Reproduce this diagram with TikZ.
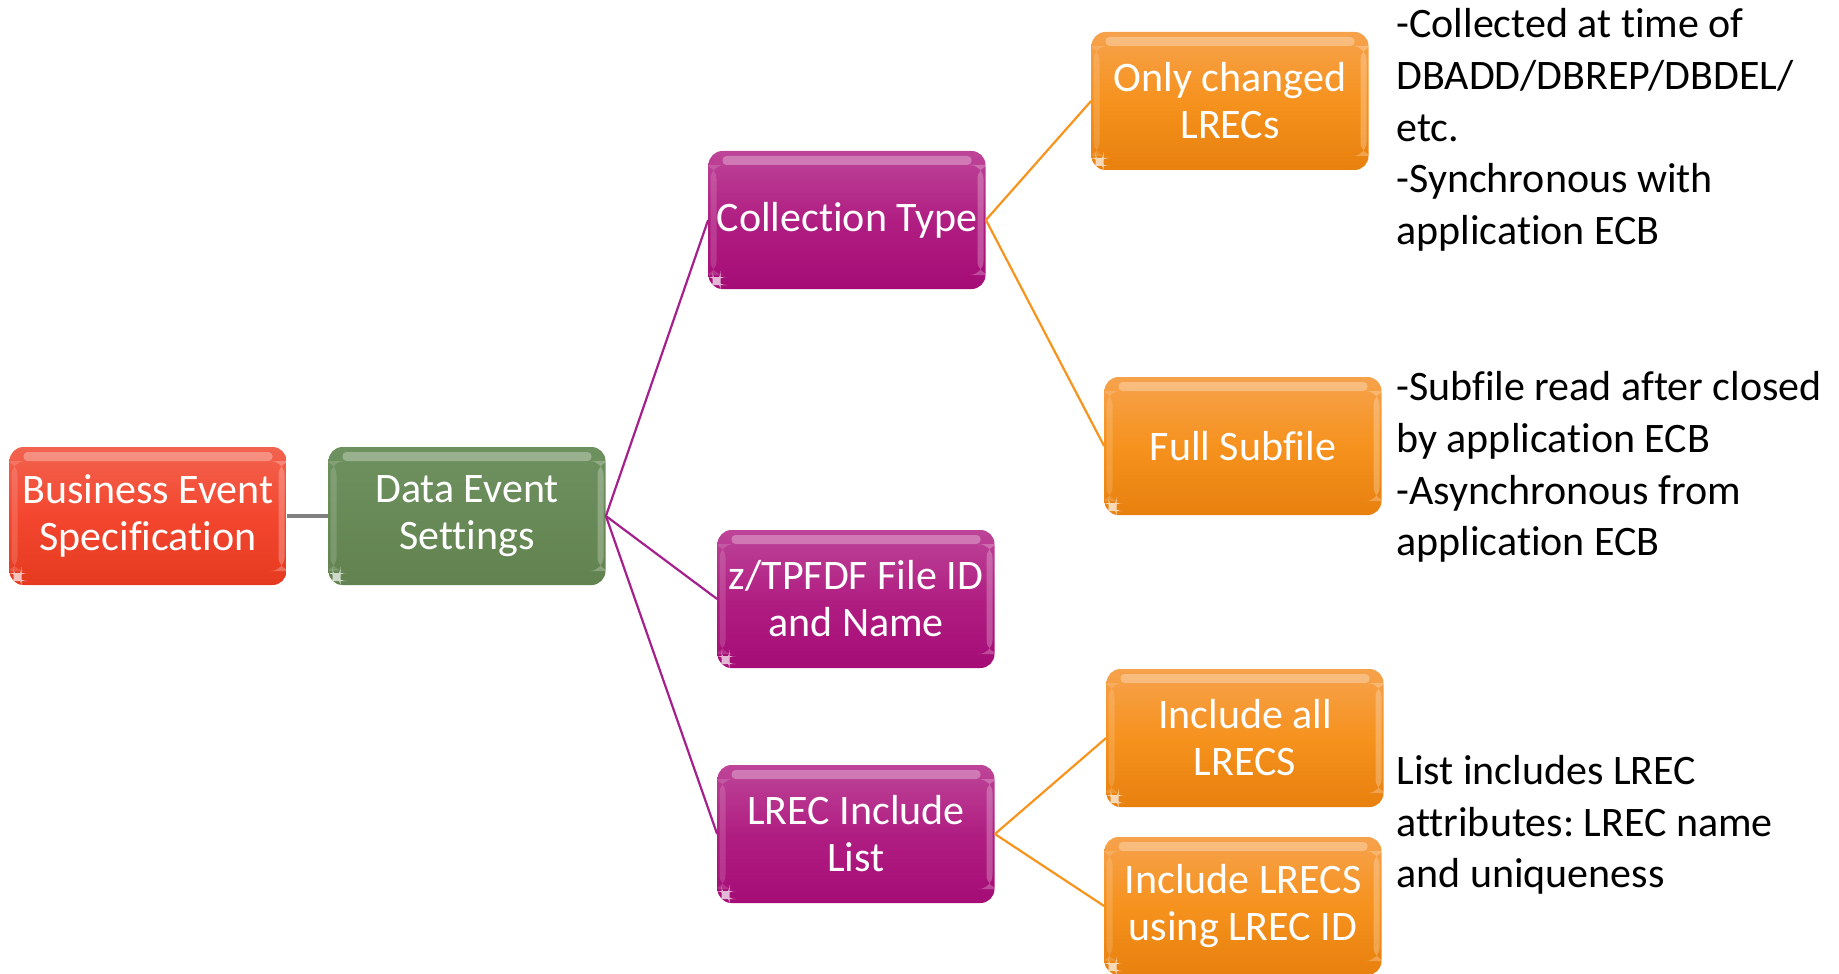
\documentclass[tikz,border=0pt]{standalone}
\usepackage{fontspec}
\setmainfont{Carlito}[Ligatures={NoCommon}]
\frenchspacing
\begin{document}
\begin{tikzpicture}[x=0.5pt,y=-0.5pt,
  box/.style={rounded corners=7pt, minimum width=138.5pt, minimum height=69pt,
    inner sep=2pt, align=center, text=white,
    font=\fontsize{21pt}{23.5pt}\selectfont,
    path picture={
      \fill[white,opacity=0.30,rounded corners=2pt]
        ([xshift=7pt,yshift=-2.5pt]path picture bounding box.north west) rectangle
        ([xshift=-7pt,yshift=-7pt]path picture bounding box.north east);
      \fill[white,opacity=0.15]
        ([xshift=1pt,yshift=-7pt]path picture bounding box.north west) rectangle
        ([xshift=4pt,yshift=7pt]path picture bounding box.south west);
      \fill[white,opacity=0.25]
        ([xshift=-4pt,yshift=-7pt]path picture bounding box.north east) rectangle
        ([xshift=-1pt,yshift=7pt]path picture bounding box.south east);
      \fill[white,opacity=0.7]
        ([xshift=2pt,yshift=2pt]path picture bounding box.south west) rectangle
        ([xshift=6pt,yshift=6pt]path picture bounding box.south west);
    }},
  redbox/.style={box, top color=redT, bottom color=redB, middle color=redM},
  greenbox/.style={box, top color=greenT, bottom color=greenB},
  purplebox/.style={box, top color=purpleT, bottom color=purpleB, middle color=purpleM},
  orangebox/.style={box, top color=orangeT, bottom color=orangeB, middle color=orangeM},
  note/.style={anchor=west, align=left, inner sep=0pt, text=black,
    font=\fontsize{21pt}{25.8pt}\selectfont},
  grayline/.style={draw=lineGray, line width=1.7pt},
  purpleline/.style={draw=linePurple, line width=1.1pt},
  orangeline/.style={draw=lineOrange, line width=1.1pt}
]
\definecolor{redT}{HTML}{F2634F}
\definecolor{redB}{HTML}{E53A20}
\definecolor{redM}{HTML}{F4462F}
\definecolor{greenT}{HTML}{6E9160}
\definecolor{greenB}{HTML}{62834F}
\definecolor{purpleT}{HTML}{BD4598}
\definecolor{purpleM}{HTML}{B01E82}
\definecolor{purpleB}{HTML}{A50C76}
\definecolor{orangeT}{HTML}{F6A24C}
\definecolor{orangeM}{HTML}{F6921E}
\definecolor{orangeB}{HTML}{E8800E}
\definecolor{lineGray}{HTML}{808080}
\definecolor{linePurple}{HTML}{A5208C}
\definecolor{lineOrange}{HTML}{F7941E}

\useasboundingbox (0,0) rectangle (1839,973);

% boxes of the tree
\node[redbox] (bes) at (148,516) {Business Event\\Specification};
\node[greenbox] (des) at (467,516) {Data Event\\Settings};
\node[purplebox] (ct) at (847,220) {Collection Type};
\node[purplebox] (fid) at (856,599) {z/TPFDF File ID\\and Name};
\node[purplebox] (lil) at (856,834) {LREC Include\\List};
\node[orangebox] (ocl) at (1230,101) {Only changed\\LRECs};
\node[orangebox] (fs) at (1243,446) {Full Subfile};
\node[orangebox] (ial) at (1245,738) {Include all\\LRECS};
\node[orangebox] (iid) at (1243,906) {Include LRECS\\using LREC ID};

% connectors
\draw[grayline] (bes.east) -- (des.west);
\draw[purpleline] (des.east) -- (ct.west);
\draw[purpleline] (des.east) -- (fid.west);
\draw[purpleline] (des.east) -- (lil.west);
\draw[orangeline] (ct.east) -- (ocl.west);
\draw[orangeline] (ct.east) -- (fs.west);
\draw[orangeline] (lil.east) -- (ial.west);
\draw[orangeline] (lil.east) -- (iid.west);

% side notes
\node[note] (n1) at (1396,130) {-Collected at time of\\DBADD/DBREP/DBDEL/\\etc.\\-Synchronous with\\application ECB};
\node[note] (n2) at (1396,467) {-Subfile read after closed\\by application ECB\\-Asynchronous from\\application ECB};
\node[note] (n3) at (1396,825) {List includes LREC\\attributes: LREC name\\and uniqueness};
\end{tikzpicture}
\end{document}
